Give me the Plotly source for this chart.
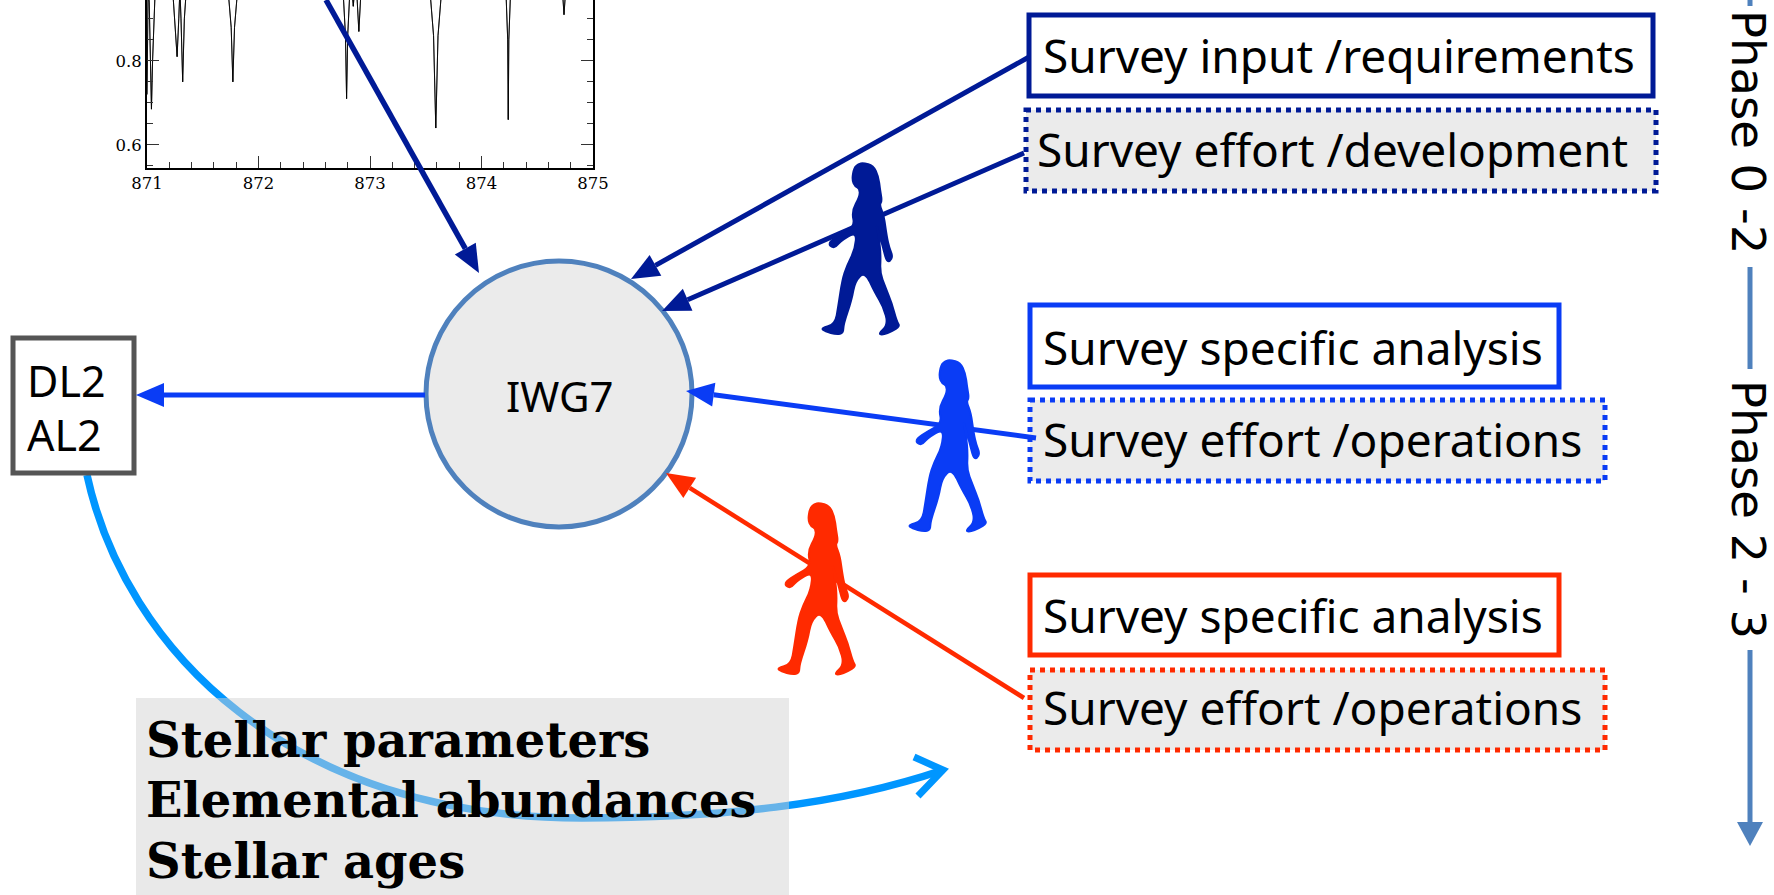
import math
import plotly.graph_objects as go

W, H = 1774, 895

# spectrum in the inset (nm, normalised flux)
wave = [871.00, 871.005, 871.01, 871.02, 871.03, 871.04, 871.05, 871.06, 871.075, 871.10,
        871.20, 871.235, 871.255, 871.27, 871.285, 871.295, 871.305, 871.32, 871.335, 871.35, 871.40,
        871.70, 871.73, 871.755, 871.77, 871.785, 871.81, 871.85,
        872.72, 872.76, 872.78, 872.79, 872.80, 872.82, 872.835, 872.85, 872.865, 872.88, 872.90, 872.92, 872.95,
        873.50, 873.54, 873.57, 873.59, 873.61, 873.64, 873.68,
        874.19, 874.22, 874.235, 874.24, 874.245, 874.26, 874.29,
        874.70, 874.725, 874.74, 874.755, 874.78, 875.00]
flux = [0.72, 0.90, 0.97, 0.94, 0.80, 0.685, 0.80, 0.94, 0.98, 1.00,
        1.00, 0.95, 0.88, 0.81, 0.90, 0.97, 0.90, 0.75, 0.90, 0.96, 1.00,
        1.00, 0.96, 0.88, 0.75, 0.88, 0.96, 1.00,
        1.00, 0.96, 0.86, 0.71, 0.86, 0.97, 0.98, 0.93, 0.98, 0.97, 0.87, 0.97, 1.00,
        1.00, 0.96, 0.86, 0.64, 0.86, 0.96, 1.00,
        1.00, 0.96, 0.85, 0.66, 0.85, 0.96, 1.00,
        1.00, 0.97, 0.91, 0.97, 1.00, 1.00]
x_ticks = [871, 872, 873, 874, 875]
y_ticks = [0.6, 0.8]
y_range = [0.546, 0.945]

# labels
box_labels = ["Survey input /requirements", "Survey effort /development",
              "Survey specific analysis", "Survey effort /operations",
              "Survey specific analysis", "Survey effort /operations"]
box_rects = [(1029, 15, 1653, 96), (1026, 110, 1656, 191),
             (1030, 305, 1559, 387), (1030, 400, 1605, 481),
             (1030, 575, 1559, 655), (1030, 670, 1605, 750)]
box_text_x = [1041, 1035, 1041, 1041, 1041, 1041]
box_text_y = [55, 149, 347, 439, 615, 707]
box_dotted = [False, True, False, True, False, True]
NAVY, BLUE, RED, SKY = "#001a96", "#0a3cf5", "#ff2a00", "#0096ff"
box_colors = [NAVY, NAVY, BLUE, BLUE, RED, RED]
GREY = "#ebebeb"
steel = "#4f81bd"

results = ["Stellar parameters", "Elemental abundances", "Stellar ages"]
results_y = [740, 800, 861]

# straight arrows: tail x, tail y, tip x, tip y, colour, width
arrows = [(326, 0, 479, 273, NAVY, 5.5),
          (1029, 57, 631, 279, NAVY, 5),
          (1024, 153, 662, 311, NAVY, 5),
          (425, 395, 136, 395, BLUE, 5),
          (1036, 438, 686, 391, BLUE, 5),
          (1024, 698, 666, 473, RED, 4.5)]
phase_lines = [(0, 6), (267, 369), (650, 825)]

# walking figure outline (unit = pixel of the navy figure)
figure_x = [310, 340, 355, 360, 366, 358, 372, 380, 388, 398, 390, 380, 372, 360, 348, 358, 362, 360,
            375, 395, 410, 420, 395, 370, 355, 385, 370, 345, 315, 285, 275, 250, 250, 230, 195, 183,
            225, 235, 247, 260, 285, 290, 240, 225, 208, 210, 240, 285, 275, 300, 298, 285, 276, 282, 295]
figure_y = [70, 78, 110, 150, 185, 195, 230, 290, 325, 350, 365, 365, 335, 290, 250, 300, 350, 400,
            440, 490, 545, 560, 575, 585, 583, 555, 500, 460, 395, 425, 480, 555, 580, 585, 575, 565,
            555, 500, 420, 380, 330, 275, 305, 325, 318, 305, 285, 260, 215, 170, 145, 140, 120, 85, 73]
figure_places = [(821, 163, NAVY), (908, 360, BLUE), (777, 503, RED)]

fig = go.Figure()

# inset spectrum, same data on both side axes so the frame has a right edge
fig.add_trace(go.Scatter(x=wave, y=flux, xaxis="x2", yaxis="y2", mode="lines",
                         line=dict(color="black", width=0.8), hoverinfo="skip", showlegend=False))
fig.add_trace(go.Scatter(x=wave, y=flux, xaxis="x2", yaxis="y3", mode="lines",
                         line=dict(color="black", width=0.8), hoverinfo="skip", showlegend=False))

shapes = []

# curved arrow from DL2 under the grey box
shapes.append(dict(type="path", xref="x", yref="y",
                   path="M 87 475 C 125 650, 290 818, 582 818 C 720 818, 840 805, 943 770",
                   line=dict(color=SKY, width=7.5)))
shapes.append(dict(type="path", xref="x", yref="y", path="M 914 757 L 943 770 L 918 796",
                   line=dict(color=SKY, width=7)))
shapes.append(dict(type="rect", xref="x", yref="y", x0=136, y0=698, x1=789, y1=895,
                   fillcolor="rgba(210,210,210,0.486)", line=dict(width=0)))

# central circle and DL2 box
shapes.append(dict(type="circle", xref="x", yref="y", x0=426, y0=261, x1=692, y1=527,
                   fillcolor=GREY, line=dict(color=steel, width=5)))
shapes.append(dict(type="rect", xref="x", yref="y", x0=13, y0=338, x1=134, y1=473,
                   line=dict(color="#555555", width=5)))

# survey boxes
for rect, color, dotted in zip(box_rects, box_colors, box_dotted):
    shapes.append(dict(type="rect", xref="x", yref="y", x0=rect[0], y0=rect[1], x1=rect[2], y1=rect[3],
                       fillcolor=GREY if dotted else "white",
                       line=dict(color=color, width=5, dash="dot" if dotted else "solid")))

# arrows
for x0, y0, x1, y1, color, width in arrows:
    size = 28
    half = 12
    d = math.hypot(x1 - x0, y1 - y0)
    ux, uy = (x1 - x0) / d, (y1 - y0) / d
    bx, by = x1 - ux * size, y1 - uy * size
    shapes.append(dict(type="line", xref="x", yref="y", x0=x0, y0=y0, x1=bx, y1=by,
                       line=dict(color=color, width=width)))
    shapes.append(dict(type="path", xref="x", yref="y",
                       path=f"M {x1} {y1} L {bx - uy * half} {by + ux * half} L {bx + uy * half} {by - ux * half} Z",
                       fillcolor=color, line=dict(width=0)))

# walking figures go over the arrows, outline rounded through the midpoints
for left, top, color in figure_places:
    pts = [(left + (fx - 183) / 3, top + (fy - 70) / 3) for fx, fy in zip(figure_x, figure_y)]
    n = len(pts)
    mid = [((pts[i][0] + pts[(i + 1) % n][0]) / 2, (pts[i][1] + pts[(i + 1) % n][1]) / 2) for i in range(n)]
    path = f"M {mid[-1][0]:.1f} {mid[-1][1]:.1f} "
    path += " ".join(f"Q {pts[i][0]:.1f} {pts[i][1]:.1f} {mid[i][0]:.1f} {mid[i][1]:.1f}" for i in range(n)) + " Z"
    shapes.append(dict(type="path", xref="x", yref="y", path=path, fillcolor=color,
                       line=dict(color=color, width=2)))

# phase timeline
for y0, y1 in phase_lines:
    shapes.append(dict(type="line", xref="x", yref="y", x0=1750, y0=y0, x1=1750, y1=y1,
                       line=dict(color=steel, width=5)))
shapes.append(dict(type="path", xref="x", yref="y", path="M 1737 822 L 1763 822 L 1750 846 Z",
                   fillcolor=steel, line=dict(width=0)))

annotations = []
sans = "Noto Sans"
for label, tx, ty in zip(box_labels, box_text_x, box_text_y):
    annotations.append(dict(x=tx, y=ty, xref="x", yref="y", text=label, showarrow=False,
                            xanchor="left", yanchor="middle",
                            font=dict(family=sans, size=46, color="black")))
annotations.append(dict(x=559, y=395, xref="x", yref="y", text="IWG7", showarrow=False,
                        font=dict(family=sans, size=42, color="black")))
annotations.append(dict(x=25, y=380, xref="x", yref="y", text="DL2", showarrow=False, xanchor="left",
                        font=dict(family=sans, size=43, color="black")))
annotations.append(dict(x=25, y=434, xref="x", yref="y", text="AL2", showarrow=False, xanchor="left",
                        font=dict(family=sans, size=43, color="black")))
for label, ty in zip(results, results_y):
    annotations.append(dict(x=144, y=ty, xref="x", yref="y", text=label, showarrow=False,
                            xanchor="left", yanchor="middle",
                            font=dict(family="DejaVu Serif", size=48, color="black", weight="bold")))
annotations.append(dict(x=1748, y=132, xref="x", yref="y", text="Phase 0 -2", showarrow=False, textangle=90,
                        font=dict(family="DejaVu Sans", size=46.5, color="black")))
annotations.append(dict(x=1748, y=509, xref="x", yref="y", text="Phase 2 - 3", showarrow=False, textangle=90,
                        font=dict(family="DejaVu Sans", size=46.5, color="black")))

serif = dict(family="DejaVu Serif", size=16.5, color="black")
side = dict(range=y_range, tickvals=y_ticks, ticks="inside", ticklen=12, tickcolor="#333333", tickwidth=1,
            showline=True, linecolor="black", linewidth=2, showgrid=False, zeroline=False,
            minor=dict(dtick=0.05, ticks="inside", ticklen=6, tickcolor="#333333", showgrid=False),
            domain=[1 - 167.5 / H, 1], anchor="x2", fixedrange=True)

fig.update_layout(
    width=W, height=H, margin=dict(l=0, r=0, t=0, b=0, autoexpand=False), autosize=False,
    paper_bgcolor="white", plot_bgcolor="rgba(0,0,0,0)", showlegend=False,
    xaxis=dict(range=[0, W], visible=False, domain=[0, 1], fixedrange=True),
    yaxis=dict(range=[H, 0], visible=False, domain=[0, 1], fixedrange=True),
    xaxis2=dict(range=[871, 875], domain=[147 / W, 593 / W], anchor="y2", tickvals=x_ticks,
                ticks="inside", ticklen=12, tickcolor="#333333", tickwidth=1, showline=True,
                linecolor="black", linewidth=2, showgrid=False, zeroline=False, tickfont=serif,
                minor=dict(dtick=0.2, ticks="inside", ticklen=6, tickcolor="#333333", showgrid=False),
                fixedrange=True),
    yaxis2=dict(tickfont=serif, tickformat=".1f", **side),
    yaxis3=dict(overlaying="y2", side="right", showticklabels=False, **side),
    shapes=shapes, annotations=annotations,
)

fig.write_html("out.html", config=dict(displayModeBar=False),
               post_script="document.body.style.margin='0';document.body.style.overflow='hidden';")
